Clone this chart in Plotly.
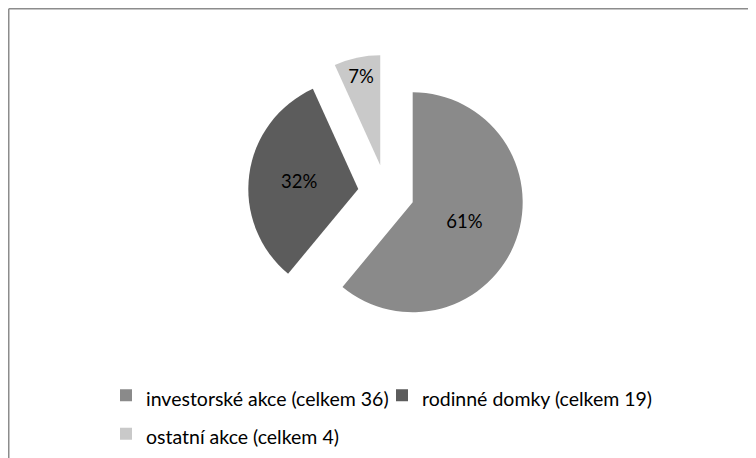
import plotly.graph_objects as go

labels = ["investorské akce (celkem 36)", "rodinné domky (celkem 19)", "ostatní akce (celkem 4)"]
values = [36, 19, 4]
colors = ["#8a8a8a", "#5c5c5c", "#c9c9c9"]
pulls = [0.256, 0.256, 0.256]

W, H = 756, 458
FONT = "Lato"

legend_labels = ['<span style="font-size:19.5px">%s</span>' % t for t in labels]

fig = go.Figure(go.Pie(
    labels=legend_labels,
    values=values,
    sort=False,
    direction="clockwise",
    rotation=0,
    pull=pulls,
    marker=dict(colors=colors, line=dict(width=0)),
    texttemplate="%{percent:.0%}",
    textposition="inside",
    insidetextorientation="horizontal",
    textfont=dict(size=18.5, color="#000000", family=FONT),
    domain=dict(x=[240.0 / W, 516.4 / W], y=[1 - 322.9 / H, 1 - 46.6 / H]),
    hoverinfo="label+value+percent",
))

fig.update_layout(
    width=W, height=H,
    margin=dict(l=0, r=0, t=0, b=0),
    paper_bgcolor="white",
    font=dict(family=FONT, color="#000000"),
    showlegend=True,
    legend=dict(
        orientation="h",
        x=98 / W, xanchor="left",
        y=1 - 363 / H, yanchor="top",
        font=dict(size=27.3, family=FONT, color="#000000"),
        itemwidth=30,
        entrywidth=231,
        bgcolor="rgba(0,0,0,0)",
    ),
    shapes=[
        dict(type="line", xref="paper", yref="paper",
             x0=0.75 / W, x1=0.75 / W, y0=0, y1=1 - 0.75 / H,
             line=dict(color="#8c8c8c", width=1.5)),
        dict(type="line", xref="paper", yref="paper",
             x0=0.75 / W, x1=1, y0=1 - 0.75 / H, y1=1 - 0.75 / H,
             line=dict(color="#8c8c8c", width=1.5)),
    ],
)

fig.write_html("out.html")
